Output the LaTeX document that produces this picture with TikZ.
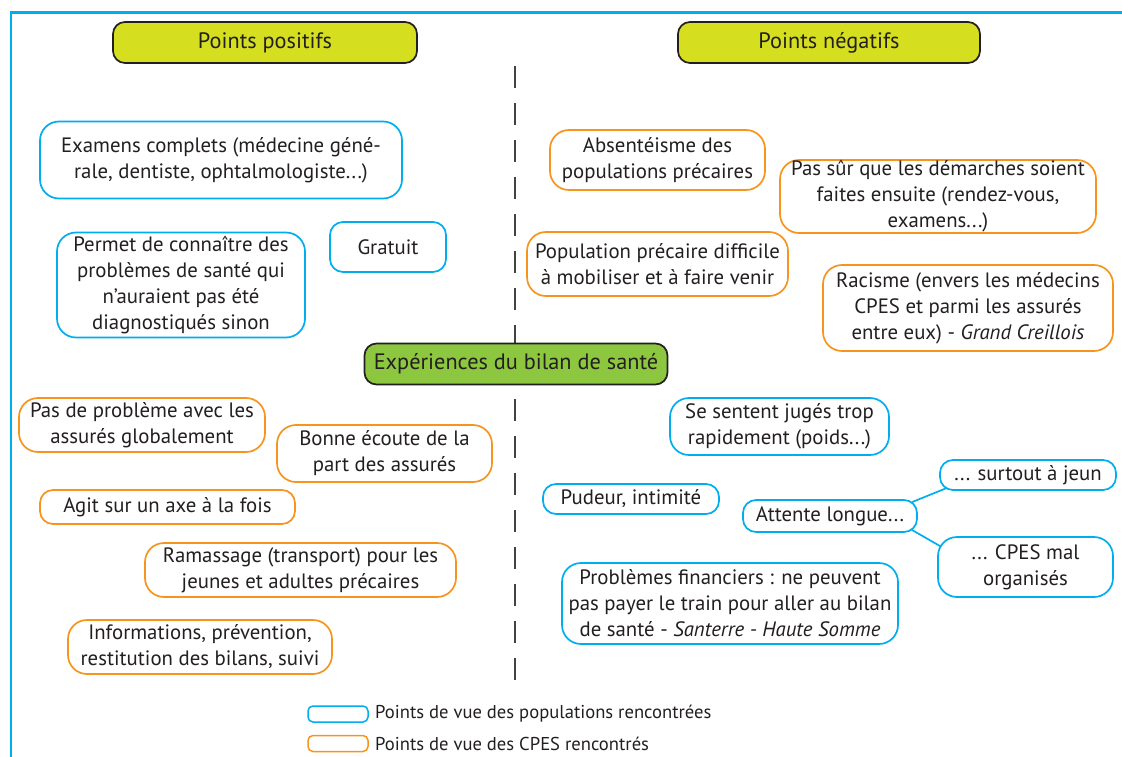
\documentclass[tikz,border=0pt]{standalone}
\usepackage{fontspec}
\setmainfont{PT Sans}
\definecolor{cblue}{HTML}{00AEEF}
\definecolor{corange}{HTML}{F7941D}
\definecolor{cyellow}{HTML}{D5DF20}
\definecolor{cgreen}{HTML}{8DC63F}
\definecolor{ctext}{HTML}{231F20}
\newcommand{\bodyfont}{\fontsize{20.8}{26}\selectfont}
\newcommand{\headfont}{\fontsize{22.3}{26}\selectfont}
\newcommand{\legfont}{\fontsize{18.6}{20}\selectfont}
\tikzset{
  base/.style={rounded corners=19pt, line width=1.7pt, align=center, inner sep=0pt, text=ctext, font=\bodyfont},
  bluebox/.style={base, draw=cblue, fill=white},
  orangebox/.style={base, draw=corange, fill=white},
  headbox/.style={base, draw=ctext, fill=cyellow, rounded corners=12pt, font=\headfont},
  greenbox/.style={base, draw=ctext, fill=cgreen, rounded corners=12pt, font=\headfont},
  smallbox/.style={rounded corners=13pt},
  conn/.style={draw=cblue, line width=1.7pt},
  divider/.style={draw=ctext!85, line width=1.6pt, dash pattern=on 22pt off 15pt},
  frame/.style={draw=cblue, line width=2.6pt},
  legbox/.style={rounded corners=5pt, line width=1.5pt, minimum width=60pt, minimum height=16pt, inner sep=0pt},
  legtext/.style={anchor=west, inner sep=0pt, text=ctext, font=\legfont}
}
\begin{document}
\begin{tikzpicture}[x=1pt,y=-1pt]
\useasboundingbox (0,0) rectangle (1122,757);
% frame
\coordinate (ftl) at (11,12.5);
\coordinate (ftr) at (1122,12.5);
\coordinate (fbl) at (11,757);
\draw[frame] (ftr) -- (ftl) -- (fbl);
% divider
\coordinate (dtop) at (515,66);
\coordinate (dbot) at (515,684);
\draw[divider] (dtop) -- (dbot);
% headers
\node[headbox, minimum width=304pt, minimum height=41pt] (pos) at (265,42.5) {Points positifs};
\node[headbox, minimum width=302pt, minimum height=41pt] (neg) at (829,42.5) {Points négatifs};
\node[greenbox, minimum width=303pt, minimum height=41pt] (exp) at (516,364) {Expériences du bilan de santé};
% left, blue
\node[bluebox, minimum width=362pt, minimum height=77pt] (exa) at (221,160) {Examens complets (médecine géné-\\rale, dentiste, ophtalmologiste...)};
\node[bluebox, smallbox, minimum width=116pt, minimum height=50pt] (gra) at (388,247) {Gratuit};
\node[bluebox, minimum width=248pt, minimum height=105pt] (per) at (181,285) {Permet de connaître des\\problèmes de santé qui\\n’auraient pas été\\diagnostiqués sinon};
% left, orange
\node[orangebox, minimum width=246pt, minimum height=54pt] (pas) at (142,425) {Pas de problème avec les\\assurés globalement};
\node[orangebox, minimum width=215pt, minimum height=57pt] (bon) at (384.5,453.5) {Bonne écoute de la\\part des assurés};
\node[orangebox, smallbox, minimum width=255pt, minimum height=34pt] (agi) at (167.5,507) {Agit sur un axe à la fois};
\node[orangebox, minimum width=311pt, minimum height=54pt] (ram) at (300.5,570) {Ramassage (transport) pour les\\jeunes et adultes précaires};
\node[orangebox, minimum width=264pt, minimum height=54pt] (inf) at (200,647) {Informations, prévention,\\restitution des bilans, suivi};
% right, orange
\node[orangebox, minimum width=215pt, minimum height=60pt] (abs) at (657.5,160) {Absentéisme des\\populations précaires};
\node[orangebox, minimum width=316pt, minimum height=73pt] (dem) at (938,196.5) {Pas sûr que les démarches soient\\faites ensuite (rendez-vous,\\examens...)};
\node[orangebox, minimum width=261pt, minimum height=64pt] (pop) at (657.5,264) {Population précaire difficile\\à mobiliser et à faire venir};
\node[orangebox, minimum width=290pt, minimum height=86pt] (rac) at (968,308) {Racisme (envers les médecins\\CPES et parmi les assurés\\entre eux) - \textit{Grand Creillois}};
% right, blue
\node[bluebox, minimum width=219pt, minimum height=57pt] (sen) at (779.5,426.5) {Se sentent jugés trop\\rapidement (poids...)};
\node[bluebox, smallbox, minimum width=176pt, minimum height=30pt] (pud) at (631,499) {Pudeur, intimité};
\node[bluebox, smallbox, minimum width=174pt, minimum height=32pt] (att) at (830,516) {Attente longue...};
\node[bluebox, smallbox, minimum width=176pt, minimum height=30pt] (sur) at (1028,475) {... surtout à jeun};
\node[bluebox, minimum width=175pt, minimum height=60pt] (cpe) at (1025.5,567) {... CPES mal\\organisés};
\node[bluebox, minimum width=336pt, minimum height=81pt] (pro) at (730,603.5) {Problèmes financiers : ne peuvent\\pas payer le train pour aller au bilan\\de santé - \textit{Santerre - Haute Somme}};
% connectors
\draw[conn] ([xshift=-6pt,yshift=-3pt]att.north east) -- ([xshift=8pt,yshift=3pt]sur.south west);
\draw[conn] ([xshift=-6pt,yshift=3pt]att.south east) -- ([xshift=3pt,yshift=-10pt]cpe.north west);
% legend
\node[legbox, draw=cblue] (lb) at (338,714) {};
\node[legtext] (lbt) at (375,714) {Points de vue des populations rencontrées};
\node[legbox, draw=corange] (lo) at (338,743.5) {};
\node[legtext] (lot) at (375,743.5) {Points de vue des CPES rencontrés};
\end{tikzpicture}
\end{document}
